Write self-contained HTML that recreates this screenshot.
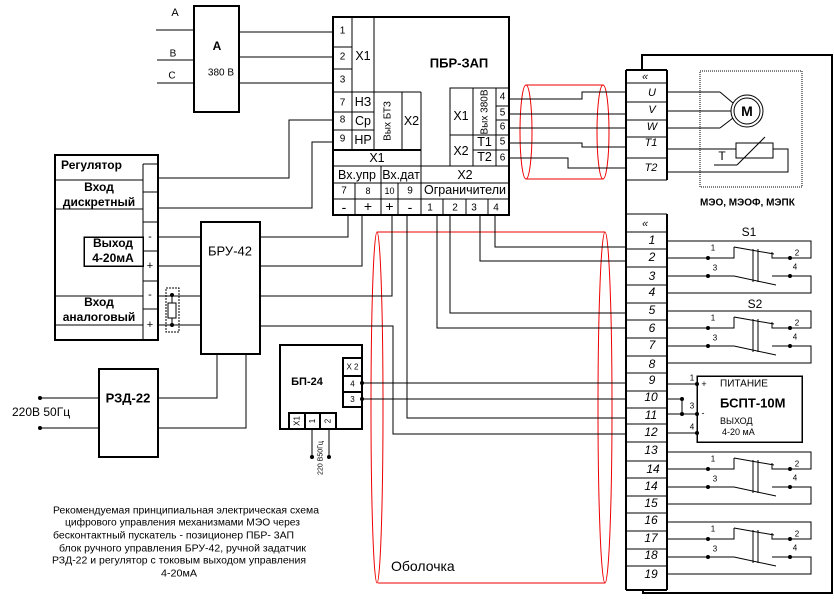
<!DOCTYPE html>
<html><head><meta charset="utf-8"><style>
html,body{margin:0;padding:0;background:#fff;}
svg{display:block;font-family:"Liberation Sans",sans-serif;}
</style></head><body>
<svg width="834" height="599" viewBox="0 0 834 599" xmlns="http://www.w3.org/2000/svg">
<rect width="834" height="599" fill="#fff"/>

<!-- RED CABLES -->
<g fill="none" stroke="#e00" stroke-width="1">
<ellipse cx="526" cy="132" rx="6" ry="47"/>
<ellipse cx="603" cy="132" rx="6" ry="47"/>
<path d="M526 85H603M526 179H603"/>
<ellipse cx="377" cy="407.5" rx="6" ry="175.5"/>
<ellipse cx="605" cy="407.5" rx="7" ry="175.5"/>
<path d="M377 232H605M378 583H605"/>
</g>

<g fill="none" stroke="#000" stroke-width="1" shape-rendering="crispEdges">
<!-- A block -->
<rect x="194" y="6" width="45" height="106" stroke-width="2"/>
<path d="M156 30H194M157 60H194M157 83H194"/>
<path d="M239 32H333M239 57H333M239 83H333"/>

<!-- Regulator -->
<rect x="55" y="155" width="103" height="185" stroke-width="2"/>
<path d="M143 164V340M143 164H158M143 192H158M143 222H158M143 251H158M143 281H158M143 309H158"/>
<path d="M55 180H143M55 209H143M55 296H143M55 325H143"/>
<rect x="84" y="237" width="59" height="29" stroke-width="1.5"/>
<path d="M158 178H289V120H333M158 208H312V142H333"/>
<path d="M158 237H201M158 266H201M158 296H201M158 325H201"/>
<rect x="166" y="288" width="13" height="44" stroke-dasharray="2,1"/>
<rect x="168" y="303" width="8" height="15"/>
<path d="M172 295V303M172 318V325"/>

<!-- BRU -->
<rect x="201" y="222" width="59" height="132" stroke-width="2"/>
<path d="M260 237H348V215M260 266H362V215M260 296H392V215M260 326H393V434H626"/>
<path d="M407 215V418H626M437 215V328H626M450 215V313H626M480 215V261H626M495 215V247H626"/>
<path d="M217 354V398H158M246 354V428H158"/>

<!-- RZD -->
<rect x="99" y="369" width="59" height="88" stroke-width="2"/>
<path d="M40 398H99M40 428H99"/>

<!-- BP-24 -->
<rect x="280" y="345" width="82" height="84" stroke-width="2"/>
<rect x="343" y="358" width="19" height="18" stroke-width="2"/>
<rect x="343" y="376" width="19" height="16" stroke-width="2"/>
<rect x="343" y="392" width="19" height="15" stroke-width="2"/>
<rect x="289" y="413" width="16" height="16" stroke-width="2"/>
<rect x="305" y="413" width="15" height="16" stroke-width="2"/>
<rect x="320" y="413" width="16" height="16" stroke-width="2"/>
<path d="M362 383H626M362 399H626M312 429V457M329 429V457"/>

<!-- PBR -->
<rect x="333" y="17" width="176" height="198" stroke-width="2"/>
<path d="M352 17V149M374 17V149M333 47H352M333 69H352M333 92H421M333 112H374M333 130H374M402 92V150M421 92V215"/>
<path d="M333 150H421" stroke-width="2"/>
<path d="M333 166H509M333 183H509M333 199H509M381 166V215M355 183V215M398 183V215M443 199V215M466 199V215M488 199V215"/>
<rect x="450" y="88" width="59" height="78"/>
<path d="M473 88V166M496 88V166M450 135H496M473 150H496M496 106H509M496 120H509M496 135H509M496 150H509"/>
<path d="M509 99H582V92H626M509 114H626M509 128H626M509 143H582V147H626M509 158H568V168H626"/>

<!-- Terminal block -->
<path d="M626 70V590" stroke-width="2"/>
<path d="M667 70V180M667 214V590" stroke-width="2"/>
<path d="M626 70H667M626 590H667" stroke-width="2"/>
<path d="M626 83H667M626 102H667M626 120H667M626 137H667M626 158H667M626 180H667M626 214H667M626 232H667M626 249H667M626 267H667M626 285H667M626 303H667M626 320H667M626 338H667M626 356H667M626 373H667M626 391H667M626 408H667M626 424H667M626 442H667M626 461H667M626 478H667M626 496H667M626 513H667M626 531H667M626 549H667M626 566H667"/>

<!-- housing -->
<path d="M642 70V55H832V593H643V590" stroke-width="2"/>
<rect x="700" y="71" width="102" height="116" stroke-dasharray="1,1"/>
<path d="M667 92H720M667 111H731M667 128H720M667 149H736M773 149H788V172H667M714 165H737"/>
<rect x="736" y="143" width="37" height="15"/>

<!-- switches -->
<path d="M667 241H811V258H772V252M667 258H734V247M667 276H734M772 276H811V293H667M753 249V282M758 249V282"/>
<path d="M667 311H811V328H772V322M667 328H734V317M667 346H734M772 346H811V363H667M753 319V352M758 319V352"/>
<path d="M667 452H811V469H772V463M667 469H734V458M667 487H734M772 487H811V504H667M753 460V493M758 460V493"/>
<path d="M667 522H811V539H772V533M667 539H734V528M667 557H734M772 557H811V574H667M753 530V563M758 530V563"/>

<!-- BSPT -->
<rect x="697" y="376" width="105" height="66" stroke-width="1.5"/>
<path d="M667 384H697M667 399H682V414M667 414H697M667 433H697"/>
</g>

<!-- diagonals / circles -->
<g fill="none" stroke="#000" stroke-width="1">
<path d="M720 92L733 103M720 128L733 118M737 165L765 137"/>
<circle cx="747" cy="111" r="16"/>
<circle cx="747" cy="111" r="13"/>
<path d="M734 247L774 254M734 276L776 285M734 317L774 324M734 346L776 355M734 458L774 465M734 487L776 496M734 528L774 535M734 557L776 566"/>
</g>

<!-- dots -->
<g fill="#000">
<circle cx="172" cy="295" r="2"/><circle cx="172" cy="325" r="2"/>
<circle cx="40" cy="398" r="2"/><circle cx="40" cy="428" r="2"/>
<circle cx="362" cy="383" r="2"/><circle cx="362" cy="399" r="2"/>
<circle cx="312" cy="457" r="2"/><circle cx="329" cy="457" r="2"/>
<circle cx="708" cy="258" r="2"/><circle cx="790" cy="258" r="2"/><circle cx="708" cy="276" r="2"/><circle cx="790" cy="276" r="2"/>
<circle cx="708" cy="328" r="2"/><circle cx="790" cy="328" r="2"/><circle cx="708" cy="346" r="2"/><circle cx="790" cy="346" r="2"/>
<circle cx="708" cy="469" r="2"/><circle cx="790" cy="469" r="2"/><circle cx="708" cy="487" r="2"/><circle cx="790" cy="487" r="2"/>
<circle cx="708" cy="539" r="2"/><circle cx="790" cy="539" r="2"/><circle cx="708" cy="557" r="2"/><circle cx="790" cy="557" r="2"/>
<circle cx="697" cy="384" r="2"/><circle cx="682" cy="399" r="2"/><circle cx="682" cy="414" r="2"/><circle cx="697" cy="414" r="2"/><circle cx="697" cy="433" r="2"/>
</g>

<!-- TEXT -->
<g fill="#000" dominant-baseline="central">
<text x="175" y="13" font-size="11" text-anchor="middle">A</text>
<text x="173" y="54" font-size="10" text-anchor="middle">B</text>
<text x="172" y="76" font-size="10" text-anchor="middle">C</text>
<text x="217" y="46" font-size="12" font-weight="bold" text-anchor="middle">A</text>
<text x="221" y="73" font-size="10" text-anchor="middle">380 В</text>

<text x="61" y="165" font-size="12" font-weight="bold">Регулятор</text>
<text x="99" y="187" font-size="12" font-weight="bold" text-anchor="middle">Вход</text>
<text x="99" y="202" font-size="12" font-weight="bold" text-anchor="middle">дискретный</text>
<text x="113" y="243" font-size="12" font-weight="bold" text-anchor="middle">Выход</text>
<text x="113" y="258" font-size="12" font-weight="bold" text-anchor="middle">4-20мА</text>
<text x="99" y="302" font-size="12" font-weight="bold" text-anchor="middle">Вход</text>
<text x="99" y="317" font-size="12" font-weight="bold" text-anchor="middle">аналоговый</text>
<text x="150" y="237" font-size="11" text-anchor="middle">-</text>
<text x="150" y="266" font-size="11" text-anchor="middle">+</text>
<text x="150" y="295" font-size="11" text-anchor="middle">-</text>
<text x="150" y="325" font-size="11" text-anchor="middle">+</text>

<text x="230" y="251" font-size="13" text-anchor="middle">БРУ-42</text>
<text x="128" y="398" font-size="13" font-weight="bold" text-anchor="middle">РЗД-22</text>
<text x="12" y="412" font-size="12">220В 50Гц</text>

<text x="307" y="382" font-size="11" font-weight="bold" text-anchor="middle">БП-24</text>
<text x="352.5" y="367" font-size="8" text-anchor="middle">X 2</text>
<text x="352.5" y="384" font-size="8" text-anchor="middle">4</text>
<text x="352.5" y="399.5" font-size="8" text-anchor="middle">3</text>
<text transform="translate(297,421) rotate(-90)" font-size="8" text-anchor="middle">X1</text>
<text transform="translate(312.5,421) rotate(-90)" font-size="8" text-anchor="middle">1</text>
<text transform="translate(328,421) rotate(-90)" font-size="8" text-anchor="middle">2</text>
<text transform="translate(321,458) rotate(-90)" font-size="7" text-anchor="middle">220 В50Гц</text>

<!-- PBR text -->
<text x="459" y="63" font-size="13" font-weight="bold" text-anchor="middle">ПБР-ЗАП</text>
<text x="342.5" y="31" font-size="10" text-anchor="middle">1</text>
<text x="342.5" y="57" font-size="10" text-anchor="middle">2</text>
<text x="342.5" y="80" font-size="10" text-anchor="middle">3</text>
<text x="363" y="56" font-size="12.5" text-anchor="middle">X1</text>
<text x="342.5" y="103" font-size="10" text-anchor="middle">7</text>
<text x="342.5" y="120" font-size="10" text-anchor="middle">8</text>
<text x="342.5" y="139" font-size="10" text-anchor="middle">9</text>
<text x="363" y="102" font-size="12.5" text-anchor="middle">НЗ</text>
<text x="363" y="121" font-size="12.5" text-anchor="middle">Ср</text>
<text x="363" y="140" font-size="12.5" text-anchor="middle">НР</text>
<text transform="translate(388,121) rotate(-90)" font-size="10" text-anchor="middle">Вых БТЗ</text>
<text x="411.5" y="121" font-size="12.5" text-anchor="middle">X2</text>
<text x="377" y="158" font-size="12.5" text-anchor="middle">X1</text>
<text x="357" y="175" font-size="12.5" text-anchor="middle">Вх.упр</text>
<text x="401" y="175" font-size="12.5" text-anchor="middle">Вх.дат</text>
<text x="344" y="191" font-size="10" text-anchor="middle">7</text>
<text x="368" y="191" font-size="9" text-anchor="middle">8</text>
<text x="389.5" y="191" font-size="9" text-anchor="middle">10</text>
<text x="410" y="191" font-size="10" text-anchor="middle">9</text>
<text x="344" y="207" font-size="14" text-anchor="middle">-</text>
<text x="368" y="206" font-size="14" text-anchor="middle">+</text>
<text x="389.5" y="206" font-size="14" text-anchor="middle">+</text>
<text x="410" y="207" font-size="14" text-anchor="middle">-</text>
<text x="465" y="175" font-size="12.5" text-anchor="middle">X2</text>
<text x="465" y="190" font-size="12.5" text-anchor="middle">Ограничители</text>
<text x="430" y="208" font-size="10" text-anchor="middle">1</text>
<text x="455" y="208" font-size="10" text-anchor="middle">2</text>
<text x="474" y="208" font-size="10" text-anchor="middle">3</text>
<text x="496" y="208" font-size="10" text-anchor="middle">4</text>
<text x="461" y="116" font-size="12.5" text-anchor="middle">X1</text>
<text x="461" y="151" font-size="12.5" text-anchor="middle">X2</text>
<text transform="translate(485,112) rotate(-90)" font-size="10" text-anchor="middle">Вых 380В</text>
<text x="484.5" y="142" font-size="12.5" text-anchor="middle">T1</text>
<text x="484.5" y="157" font-size="12.5" text-anchor="middle">T2</text>
<text x="502.5" y="97" font-size="10" text-anchor="middle">4</text>
<text x="502.5" y="113" font-size="10" text-anchor="middle">5</text>
<text x="502.5" y="127" font-size="10" text-anchor="middle">6</text>
<text x="502.5" y="142" font-size="10" text-anchor="middle">5</text>
<text x="502.5" y="158" font-size="10" text-anchor="middle">6</text>

<!-- terminal labels -->
<g font-style="italic" text-anchor="middle">
<text x="645" y="77" font-size="11">«</text>
<text x="652" y="93" font-size="11">U</text>
<text x="652" y="110" font-size="11">V</text>
<text x="652" y="127" font-size="11">W</text>
<text x="651" y="143" font-size="11">T1</text>
<text x="651" y="168" font-size="11">T2</text>
<text x="645" y="224" font-size="11">«</text>
<text x="652" y="240" font-size="12">1</text>
<text x="652" y="257" font-size="12">2</text>
<text x="652" y="276" font-size="12">3</text>
<text x="652" y="292" font-size="12">4</text>
<text x="652" y="310" font-size="12">5</text>
<text x="652" y="328" font-size="12">6</text>
<text x="652" y="345" font-size="12">7</text>
<text x="652" y="364" font-size="12">8</text>
<text x="652" y="380" font-size="12">9</text>
<text x="651" y="397" font-size="12">10</text>
<text x="651" y="415" font-size="12">11</text>
<text x="651" y="432" font-size="12">12</text>
<text x="651" y="450" font-size="12">13</text>
<text x="653" y="469" font-size="12">14</text>
<text x="651" y="486" font-size="12">14</text>
<text x="651" y="503" font-size="12">15</text>
<text x="651" y="520" font-size="12">16</text>
<text x="651" y="538" font-size="12">17</text>
<text x="651" y="555" font-size="12">18</text>
<text x="651" y="574" font-size="12">19</text>
</g>

<text x="747" y="111" font-size="14" font-weight="bold" text-anchor="middle">M</text>
<text x="722" y="156" font-size="12" text-anchor="middle">T</text>
<text x="700" y="203" font-size="10" font-weight="bold">МЭО,   МЭОФ, МЭПК</text>

<text x="749" y="232" font-size="12" text-anchor="middle">S1</text>
<text x="755" y="304" font-size="12" text-anchor="middle">S2</text>
<g font-size="8" text-anchor="middle">
<text x="713" y="248">1</text><text x="797" y="253">2</text><text x="715" y="268">3</text><text x="795" y="267">4</text>
<text x="713" y="318">1</text><text x="797" y="323">2</text><text x="715" y="338">3</text><text x="795" y="337">4</text>
<text x="713" y="459">1</text><text x="797" y="464">2</text><text x="715" y="479">3</text><text x="795" y="478">4</text>
<text x="713" y="529">1</text><text x="797" y="534">2</text><text x="715" y="549">3</text><text x="795" y="548">4</text>
<text x="692" y="378">1</text><text x="692" y="406">3</text><text x="692" y="427">4</text>
</g>
<text x="704" y="384" font-size="9" text-anchor="middle">+</text>
<text x="703" y="413" font-size="9" text-anchor="middle">-</text>
<text x="720" y="384" font-size="10">ПИТАНИЕ</text>
<text x="720" y="403" font-size="13" font-weight="bold">БСПТ-10М</text>
<text x="720" y="421" font-size="9">ВЫХОД</text>
<text x="722" y="432" font-size="9">4-20 мА</text>

<text x="391" y="566" font-size="14">Оболочка</text>

<g font-size="10">
<text x="53" y="511" textLength="266" lengthAdjust="spacingAndGlyphs">Рекомендуемая принципиальная  электрическая схема</text>
<text x="65" y="523" textLength="235" lengthAdjust="spacingAndGlyphs">цифрового управления механизмами МЭО через</text>
<text x="53" y="536" textLength="241" lengthAdjust="spacingAndGlyphs">бесконтактный пускатель - позиционер  ПБР- 3АП</text>
<text x="59" y="549" textLength="247" lengthAdjust="spacingAndGlyphs">блок ручного управления БРУ-42,  ручной задатчик</text>
<text x="52" y="561" textLength="254" lengthAdjust="spacingAndGlyphs">РЗД-22 и  регулятор с токовым выходом управления</text>
<text x="161" y="574" textLength="36" lengthAdjust="spacingAndGlyphs">4-20мА</text>
</g>
</g>
</svg>
</body></html>
